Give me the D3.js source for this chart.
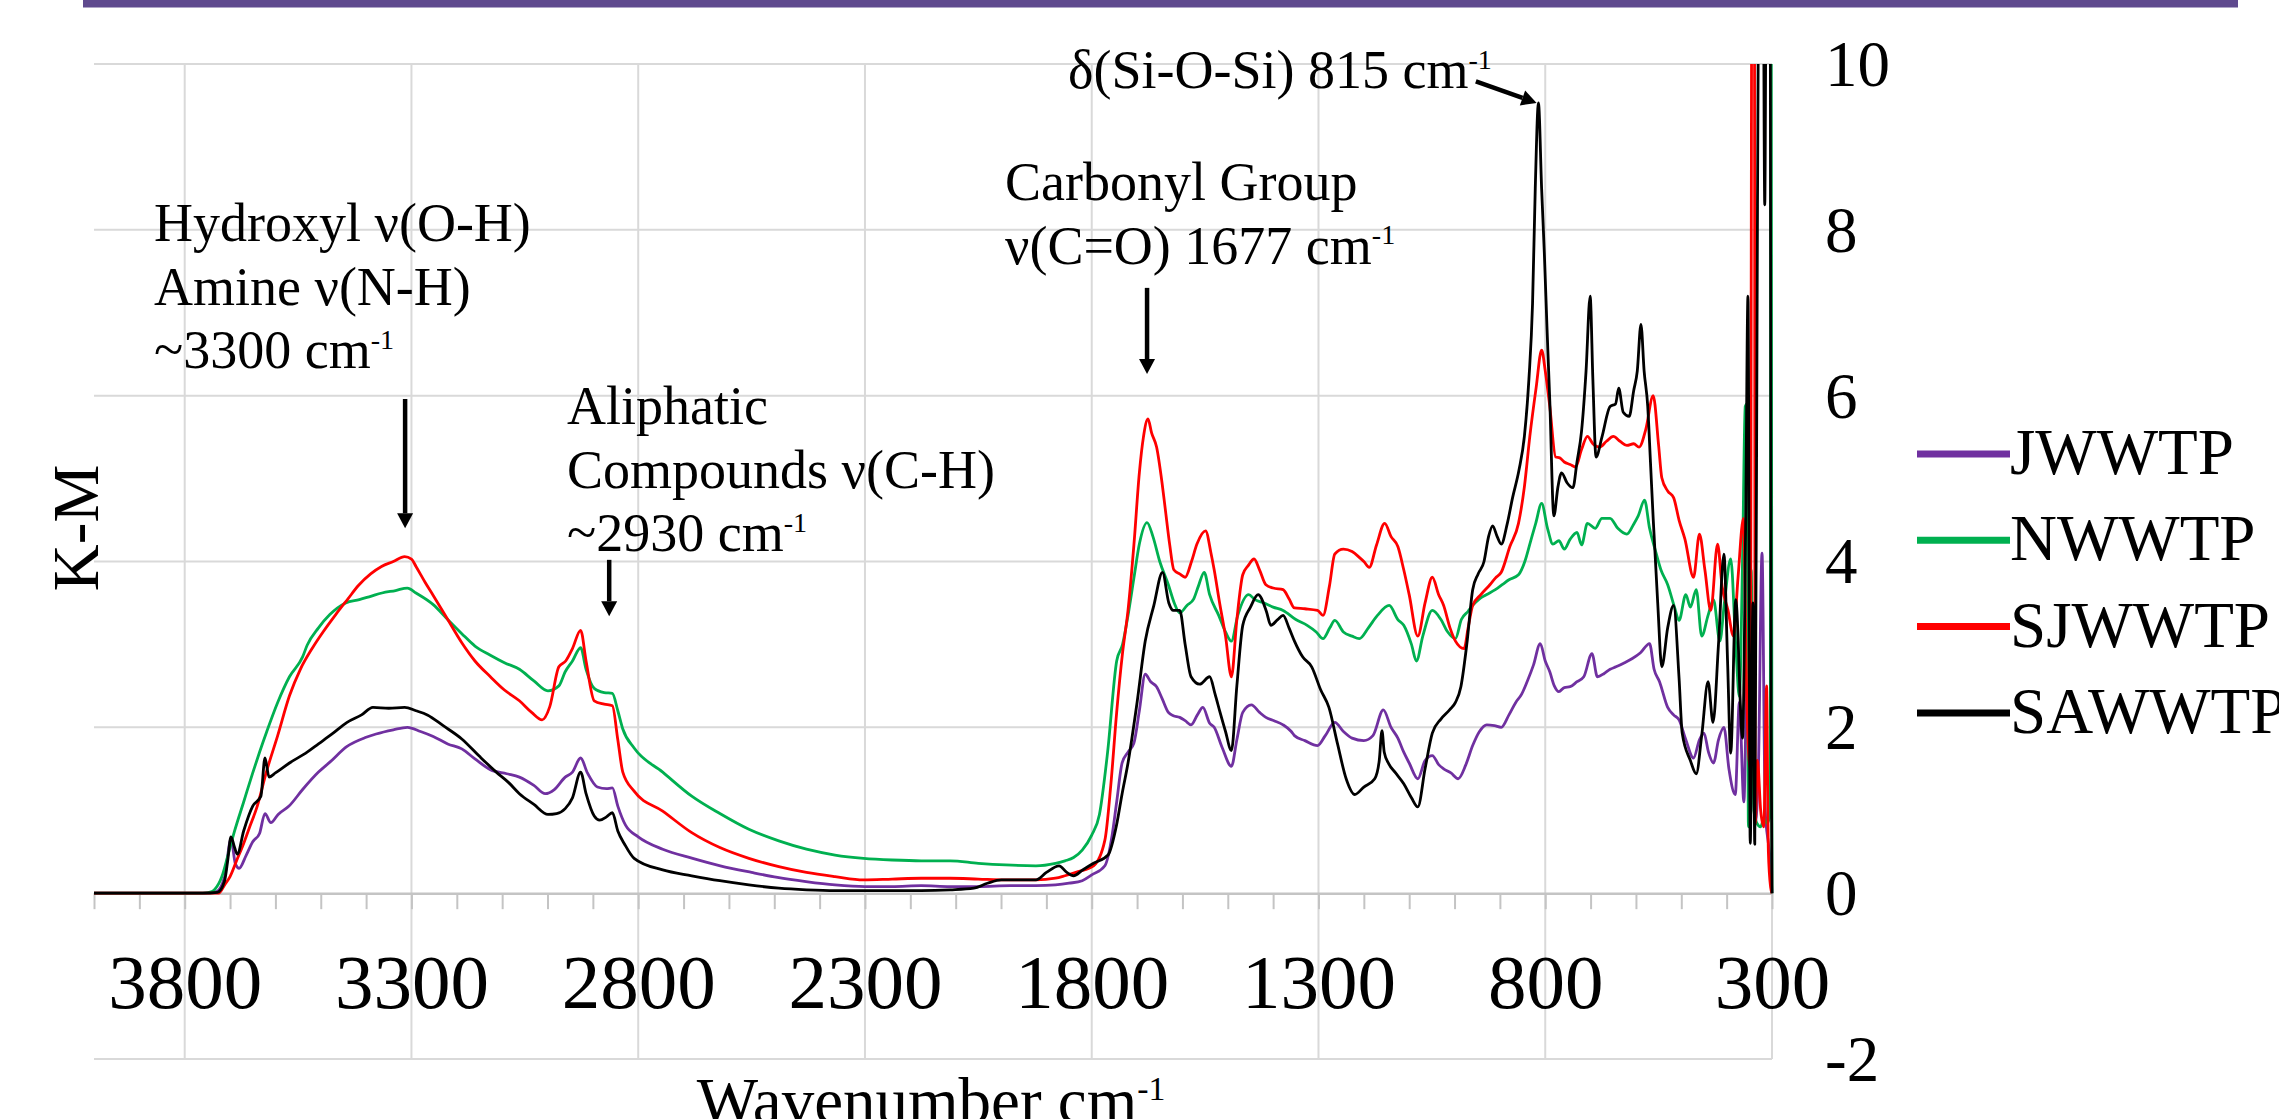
<!DOCTYPE html>
<html>
<head>
<meta charset="utf-8">
<script src="https://cdn.jsdelivr.net/npm/d3@7"></script>
<style>
  body { margin: 0; background: #fff; }
  svg { display: block; font-family: "Liberation Serif", "Times New Roman", serif; }
</style>
</head>
<body>
<svg id="chart" width="2279" height="1119"></svg>
<script>
/* DRIFT K-M spectra of four WWTP samples */

const SERIES_NAMES  = ["JWWTP", "NWWTP", "SJWWTP", "SAWWTP"];
const SERIES_COLORS = ["#7030A0", "#00B050", "#FF0000", "#000000"];
const X_TICKS = [3800, 3300, 2800, 2300, 1800, 1300, 800, 300];
const Y_TICKS = [10, 8, 6, 4, 2, 0, -2];

// [wavenumber cm-1, K-M]
const JWWTP = [[4000,0],[3760,0],[3730,0.02],[3712,0.2],[3698,0.65],[3688,0.35],[3680,0.30],[3665,0.45],[3650,0.62],[3635,0.72],[3623,0.96],[3610,0.85],[3594,0.95],[3570,1.05],[3540,1.25],[3505,1.46],[3480,1.58],[3442,1.77],[3400,1.88],[3378,1.92],[3340,1.97],[3309,2.00],[3280,1.95],[3252,1.89],[3220,1.80],[3189,1.74],[3160,1.62],[3126,1.49],[3090,1.44],[3062,1.40],[3030,1.30],[3005,1.20],[2985,1.25],[2961,1.40],[2945,1.46],[2927,1.63],[2912,1.45],[2890,1.28],[2870,1.26],[2857,1.27],[2845,1.05],[2828,0.82],[2800,0.68],[2746,0.53],[2680,0.42],[2619,0.33],[2550,0.25],[2493,0.19],[2430,0.14],[2366,0.10],[2300,0.08],[2240,0.08],[2176,0.09],[2113,0.08],[2050,0.08],[1980,0.09],[1923,0.09],[1880,0.10],[1850,0.12],[1821,0.15],[1800,0.22],[1771,0.33],[1755,0.7],[1745,1.1],[1733,1.57],[1720,1.70],[1707,1.81],[1695,2.2],[1682,2.64],[1670,2.55],[1657,2.49],[1645,2.35],[1631,2.18],[1620,2.14],[1606,2.12],[1594,2.08],[1581,2.03],[1567,2.15],[1555,2.24],[1540,2.05],[1530,2.00],[1512,1.75],[1492,1.53],[1480,1.85],[1467,2.18],[1448,2.27],[1430,2.18],[1416,2.12],[1398,2.08],[1378,2.03],[1360,1.95],[1353,1.90],[1330,1.84],[1302,1.78],[1285,1.90],[1264,2.06],[1245,1.95],[1226,1.87],[1200,1.84],[1180,1.90],[1157,2.21],[1140,2.0],[1125,1.87],[1112,1.70],[1100,1.57],[1081,1.38],[1065,1.60],[1049,1.66],[1035,1.55],[1024,1.50],[1008,1.45],[992,1.38],[975,1.55],[960,1.78],[945,1.95],[929,2.03],[912,2.02],[897,2.00],[880,2.15],[865,2.30],[852,2.40],[840,2.55],[826,2.75],[811,3.01],[800,2.80],[790,2.67],[780,2.50],[770,2.43],[758,2.48],[745,2.49],[730,2.55],[715,2.61],[697,2.89],[685,2.61],[670,2.65],[657,2.70],[644,2.73],[625,2.78],[608,2.83],[590,2.90],[570,3.01],[560,2.70],[548,2.55],[530,2.24],[517,2.15],[505,2.09],[490,1.85],[473,1.63],[460,1.85],[450,1.93],[440,1.70],[429,1.57],[418,1.85],[406,2.00],[395,1.50],[381,1.19],[372,2.30],[362,1.1],[355,2.6],[348,0.9],[343,1.8],[337,0.84],[330,1.5],[322,4.1],[315,1.0],[308,0.6],[304,0.4],[300,0]];

const NWWTP = [[4000,0],[3760,0],[3740,0.02],[3733,0.05],[3718,0.2],[3705,0.45],[3690,0.75],[3670,1.1],[3650,1.45],[3635,1.7],[3619,1.95],[3595,2.3],[3569,2.61],[3540,2.85],[3530,2.99],[3505,3.2],[3480,3.36],[3445,3.50],[3415,3.54],[3390,3.58],[3365,3.62],[3335,3.65],[3309,3.68],[3290,3.62],[3252,3.48],[3220,3.30],[3189,3.13],[3160,2.98],[3126,2.87],[3095,2.78],[3062,2.70],[3030,2.56],[2999,2.44],[2975,2.50],[2961,2.67],[2945,2.80],[2927,2.96],[2915,2.70],[2897,2.47],[2875,2.42],[2857,2.41],[2845,2.20],[2834,1.98],[2809,1.75],[2746,1.46],[2682,1.17],[2620,0.96],[2556,0.77],[2490,0.63],[2429,0.53],[2366,0.46],[2303,0.42],[2240,0.40],[2176,0.39],[2112,0.39],[2050,0.36],[1990,0.34],[1923,0.33],[1880,0.36],[1859,0.39],[1840,0.43],[1821,0.52],[1800,0.70],[1783,0.95],[1765,1.7],[1745,2.80],[1732,3.0],[1720,3.35],[1707,3.8],[1695,4.21],[1678,4.47],[1665,4.30],[1650,4.0],[1631,3.72],[1618,3.50],[1606,3.38],[1590,3.47],[1575,3.55],[1565,3.70],[1552,3.87],[1540,3.60],[1520,3.35],[1505,3.15],[1492,3.04],[1478,3.35],[1454,3.60],[1440,3.54],[1420,3.50],[1400,3.45],[1378,3.41],[1350,3.30],[1325,3.23],[1305,3.15],[1290,3.07],[1275,3.20],[1264,3.29],[1245,3.15],[1226,3.10],[1210,3.07],[1190,3.20],[1170,3.35],[1144,3.47],[1125,3.30],[1112,3.23],[1095,3.0],[1084,2.80],[1070,3.10],[1049,3.41],[1030,3.30],[1015,3.15],[998,3.07],[985,3.30],[970,3.40],[960,3.47],[945,3.55],[930,3.60],[910,3.66],[895,3.72],[880,3.78],[859,3.84],[845,4.0],[832,4.25],[821,4.46],[808,4.70],[795,4.40],[783,4.21],[770,4.25],[758,4.15],[745,4.27],[730,4.35],[720,4.20],[707,4.46],[690,4.40],[675,4.52],[657,4.52],[640,4.40],[620,4.33],[605,4.45],[595,4.55],[581,4.74],[570,4.40],[558,4.15],[545,3.90],[530,3.72],[515,3.45],[505,3.29],[490,3.60],[480,3.45],[467,3.66],[455,3.10],[441,3.35],[429,3.54],[415,3.04],[405,3.50],[391,4.03],[380,3.0],[372,2.37],[365,4.0],[359,5.87],[355,5.9],[352,0.8],[346,3.9],[340,1.0],[333,0.84],[325,0.8],[318,0.9],[310,0.84],[304,1.0],[302,12],[300,0]];

const SJWWTP = [[4000,0],[3760,0],[3725,0],[3712,0.1],[3700,0.2],[3685,0.4],[3670,0.6],[3658,0.78],[3640,1.05],[3620,1.46],[3595,1.9],[3569,2.38],[3545,2.7],[3518,2.96],[3495,3.15],[3467,3.36],[3440,3.55],[3417,3.71],[3390,3.85],[3366,3.94],[3340,4.0],[3315,4.06],[3300,4.03],[3290,3.94],[3270,3.75],[3252,3.59],[3220,3.30],[3189,3.02],[3160,2.80],[3126,2.61],[3095,2.45],[3062,2.32],[3035,2.18],[3012,2.09],[2995,2.25],[2975,2.73],[2960,2.80],[2945,2.95],[2927,3.17],[2915,2.80],[2897,2.32],[2875,2.28],[2857,2.26],[2845,1.85],[2834,1.46],[2809,1.23],[2746,0.99],[2682,0.73],[2620,0.55],[2556,0.42],[2490,0.32],[2429,0.25],[2366,0.20],[2303,0.16],[2240,0.17],[2176,0.18],[2112,0.18],[2050,0.17],[1990,0.16],[1923,0.16],[1880,0.18],[1859,0.21],[1830,0.26],[1796,0.33],[1771,0.64],[1758,1.3],[1745,2.18],[1732,2.9],[1720,3.41],[1707,4.2],[1695,5.07],[1686,5.5],[1676,5.72],[1668,5.55],[1657,5.38],[1645,4.95],[1638,4.64],[1628,4.2],[1619,3.90],[1606,3.85],[1594,3.81],[1580,4.0],[1568,4.21],[1549,4.37],[1537,4.1],[1530,3.90],[1518,3.5],[1505,3.10],[1492,2.61],[1480,3.3],[1467,3.84],[1455,3.95],[1442,4.03],[1430,3.9],[1416,3.72],[1400,3.68],[1378,3.66],[1365,3.55],[1353,3.44],[1330,3.43],[1302,3.41],[1290,3.35],[1276,3.7],[1264,4.09],[1245,4.15],[1226,4.12],[1210,4.05],[1200,4.0],[1188,3.93],[1172,4.2],[1154,4.46],[1140,4.3],[1125,4.18],[1112,3.9],[1100,3.60],[1081,3.10],[1065,3.5],[1049,3.81],[1035,3.6],[1024,3.47],[1010,3.2],[998,3.04],[979,2.95],[970,3.2],[960,3.47],[942,3.6],[922,3.72],[910,3.80],[897,3.87],[878,4.18],[859,4.46],[846,4.9],[834,5.51],[820,6.1],[808,6.55],[800,6.3],[790,5.87],[777,5.26],[768,5.25],[758,5.20],[745,5.17],[733,5.14],[720,5.35],[707,5.51],[695,5.42],[680,5.38],[665,5.45],[650,5.51],[635,5.45],[620,5.40],[605,5.42],[593,5.38],[578,5.6],[562,6.00],[550,5.4],[543,5.01],[530,4.85],[517,4.77],[505,4.5],[492,4.27],[473,3.81],[460,4.33],[448,3.9],[435,3.41],[420,4.21],[410,3.7],[397,3.41],[385,3.10],[375,3.8],[363,4.52],[355,2.2],[348,1.5],[344,12],[339,12],[337,0.84],[332,1.6],[325,1.0],[318,0.8],[312,2.5],[308,0.5],[303,0.07],[300,0]];

const SAWWTP = [[4000,0],[3760,0],[3728,0.01],[3712,0.15],[3705,0.4],[3698,0.68],[3690,0.55],[3684,0.47],[3670,0.75],[3650,1.05],[3632,1.17],[3623,1.63],[3614,1.40],[3600,1.45],[3569,1.57],[3530,1.70],[3505,1.80],[3475,1.92],[3442,2.06],[3410,2.15],[3385,2.24],[3350,2.23],[3315,2.24],[3290,2.20],[3265,2.15],[3230,2.02],[3189,1.86],[3150,1.65],[3113,1.46],[3085,1.33],[3062,1.20],[3030,1.07],[2999,0.95],[2980,0.96],[2961,1.02],[2945,1.15],[2927,1.46],[2915,1.20],[2897,0.93],[2885,0.88],[2870,0.92],[2857,0.97],[2845,0.75],[2830,0.59],[2809,0.42],[2746,0.28],[2682,0.21],[2620,0.15],[2556,0.10],[2490,0.06],[2429,0.04],[2366,0.03],[2300,0.03],[2240,0.03],[2176,0.03],[2112,0.04],[2060,0.06],[2030,0.12],[1999,0.16],[1960,0.16],[1923,0.16],[1900,0.25],[1872,0.33],[1855,0.25],[1840,0.21],[1820,0.28],[1796,0.36],[1764,0.46],[1745,0.83],[1733,1.2],[1720,1.57],[1700,2.3],[1682,3.04],[1663,3.47],[1644,3.87],[1630,3.5],[1620,3.41],[1606,3.41],[1594,3.0],[1581,2.61],[1562,2.52],[1540,2.61],[1528,2.4],[1517,2.18],[1505,1.95],[1492,1.72],[1480,2.5],[1467,3.23],[1450,3.45],[1433,3.60],[1415,3.40],[1405,3.23],[1390,3.30],[1378,3.35],[1365,3.2],[1353,3.04],[1335,2.85],[1315,2.73],[1295,2.45],[1277,2.24],[1258,1.8],[1239,1.38],[1220,1.19],[1200,1.28],[1176,1.38],[1166,1.6],[1160,1.96],[1155,1.70],[1145,1.56],[1130,1.45],[1112,1.32],[1095,1.15],[1081,1.04],[1065,1.5],[1049,1.93],[1030,2.1],[1011,2.21],[998,2.3],[986,2.49],[973,3.0],[960,3.66],[948,3.85],[935,4.00],[925,4.3],[916,4.43],[906,4.30],[897,4.21],[884,4.45],[872,4.77],[858,5.1],[846,5.51],[836,6.2],[828,7.11],[822,8.5],[815,9.53],[808,8.5],[802,7.72],[796,6.8],[790,5.94],[781,4.55],[772,4.9],[764,5.07],[752,4.95],[739,4.89],[730,5.2],[720,5.57],[710,6.3],[701,7.20],[695,6.2],[688,5.26],[675,5.5],[657,5.87],[645,5.9],[638,6.09],[628,5.80],[615,5.75],[605,6.06],[597,6.3],[589,6.86],[582,6.3],[574,5.87],[568,5.2],[562,4.52],[552,3.5],[543,2.73],[530,3.2],[517,3.47],[505,2.6],[498,1.93],[480,1.6],[467,1.44],[455,1.9],[441,2.55],[430,2.06],[418,3.0],[406,4.09],[398,2.8],[391,1.69],[380,3.54],[365,1.87],[358,4.5],[353,7.2],[348,0.6],[342,3.5],[338,0.59],[332,8.3],[328,12],[320,12],[316,8.3],[312,12],[304,12],[302,2.2],[301,1.1],[300,0]];

const SERIES_DATA = [JWWTP, NWWTP, SJWWTP, SAWWTP];

// ---- layout ----
const svg = d3.select("#chart");
const PLOT = { left: 94, right: 1772, top: 64, bottom: 1059 };
const x = d3.scaleLinear().domain([4000, 300]).range([PLOT.left, PLOT.right]);
const y = d3.scaleLinear().domain([-2, 10]).range([PLOT.bottom, PLOT.top]);
const plain = d => String(d); // hyphen-minus like the original, not U+2212

svg.append("rect").attr("width", 2279).attr("height", 1119).attr("fill", "#fff");
// purple banner strip on top
svg.append("rect").attr("x", 83).attr("y", 0).attr("width", 2155).attr("height", 7.5).attr("fill", "#5F4A8E");

// gridlines
const grid = svg.append("g").attr("stroke", "#d9d9d9").attr("stroke-width", 2);
grid.selectAll("line.h").data(Y_TICKS.filter(v => v !== 0)).join("line")
  .attr("x1", PLOT.left).attr("x2", PLOT.right)
  .attr("y1", d => y(d)).attr("y2", d => y(d));
grid.selectAll("line.v").data(X_TICKS).join("line")
  .attr("x1", d => x(d)).attr("x2", d => x(d))
  .attr("y1", PLOT.top).attr("y2", PLOT.bottom);

// x axis line at K-M = 0 with minor ticks every 100 cm-1
const minor = svg.append("g").attr("transform", `translate(0,${y(0)})`)
  .call(d3.axisBottom(x).tickValues(d3.range(4000, 299, -100)).tickSize(16).tickFormat("").tickSizeOuter(0));
minor.select(".domain").attr("stroke", "#c4c4c4").attr("stroke-width", 2.5);
minor.selectAll(".tick line").attr("stroke", "#c4c4c4").attr("stroke-width", 2);

// x tick labels
const xLab = svg.append("g").attr("transform", `translate(0,${y(0)})`)
  .call(d3.axisBottom(x).tickValues(X_TICKS).tickSize(0).tickPadding(60).tickFormat(plain));
xLab.select(".domain").remove();
xLab.attr("font-family", null).attr("font-size", null);
xLab.selectAll("text").attr("font-size", 77).attr("fill", "#000");

// y tick labels on the right
const yLab = svg.append("g").attr("transform", `translate(${PLOT.right},0)`)
  .call(d3.axisRight(y).tickValues(Y_TICKS).tickSize(0).tickPadding(53).tickFormat(plain));
yLab.select(".domain").remove();
yLab.attr("font-family", null).attr("font-size", null);
yLab.selectAll("text").attr("font-size", 65).attr("fill", "#000").attr("dy", "0.33em");

// series
svg.append("clipPath").attr("id", "plotClip").append("rect")
  .attr("x", PLOT.left).attr("y", PLOT.top)
  .attr("width", PLOT.right - PLOT.left + 2).attr("height", PLOT.bottom - PLOT.top);

const line = d3.line().x(d => x(d[0])).y(d => y(d[1])).curve(d3.curveMonotoneX);
svg.append("g").attr("clip-path", "url(#plotClip)")
  .selectAll("path").data(SERIES_DATA).join("path")
  .attr("d", line).attr("fill", "none")
  .attr("stroke", (d, i) => SERIES_COLORS[i])
  .attr("stroke-width", 2.8).attr("stroke-linejoin", "round");

// legend
const legend = svg.append("g").attr("transform", "translate(1917,454)");
const item = legend.selectAll("g").data(SERIES_NAMES).join("g")
  .attr("transform", (d, i) => `translate(0,${i * 86.3})`);
item.append("line").attr("x1", 0).attr("x2", 93)
  .attr("stroke", (d, i) => SERIES_COLORS[i]).attr("stroke-width", 7);
item.append("text").attr("x", 93).attr("y", 20).attr("font-size", 65).text(d => d);

// axis titles
svg.append("text").attr("transform", "translate(98,528) rotate(-90)")
  .attr("text-anchor", "middle").attr("font-size", 65).text("K-M");

function richText(g, px, py, segs, size, anchor) {
  const t = g.append("text").attr("x", px).attr("y", py).attr("font-size", size)
    .attr("text-anchor", anchor || "start");
  segs.forEach(s => {
    if (s.sup) t.append("tspan").attr("font-size", size * 0.52).attr("dy", -size * 0.36).text(s.t);
    else t.append("tspan").text(s.t);
  });
  return t;
}
richText(svg, 931, 1123, [{ t: "Wavenumber cm" }, { t: "-1", sup: true }], 65, "middle");

// annotations
const ANNOTATIONS = [
  { px: 154, py: 241, lines: [[{ t: "Hydroxyl ν(O-H)" }], [{ t: "Amine ν(N-H)" }], [{ t: "~3300 cm" }, { t: "-1", sup: true }]] },
  { px: 567, py: 424, lines: [[{ t: "Aliphatic" }], [{ t: "Compounds ν(C-H)" }], [{ t: "~2930 cm" }, { t: "-1", sup: true }]] },
  { px: 1005, py: 200, lines: [[{ t: "Carbonyl Group" }], [{ t: "ν(C=O) 1677 cm" }, { t: "-1", sup: true }]] },
  { px: 1068, py: 88, lines: [[{ t: "δ(Si-O-Si) 815 cm" }, { t: "-1", sup: true }]] }
];
const ann = svg.append("g");
ANNOTATIONS.forEach(a => a.lines.forEach((segs, i) => richText(ann, a.px, a.py + i * 63.5, segs, 54)));

// arrows, in data coordinates: [wn0, km0, wn1, km1]
const ARROWS = [[3314, 5.96, 3314, 4.40], [2864, 4.02, 2864, 3.34], [1678, 7.30, 1678, 6.26], [953, 9.79, 819, 9.53]];
ARROWS.forEach(([a0, b0, a1, b1]) => {
  const x0 = x(a0), y0 = y(b0), x1 = x(a1), y1 = y(b1);
  const L = Math.hypot(x1 - x0, y1 - y0), ux = (x1 - x0) / L, uy = (y1 - y0) / L;
  const hl = 15, hw = 8;
  const bx = x1 - ux * hl, by = y1 - uy * hl;
  ann.append("line").attr("x1", x0).attr("y1", y0).attr("x2", bx).attr("y2", by)
    .attr("stroke", "#000").attr("stroke-width", 4.5);
  ann.append("path").attr("fill", "#000")
    .attr("d", `M${x1},${y1}L${bx - uy * hw},${by + ux * hw}L${bx + uy * hw},${by - ux * hw}Z`);
});
</script>
</body>
</html>
